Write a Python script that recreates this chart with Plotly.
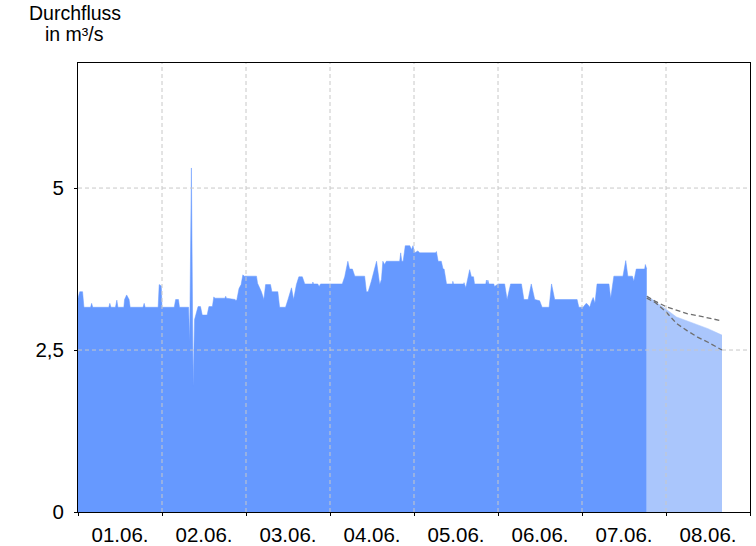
import pandas as pd
import plotly.graph_objects as go

# ---------------- data ----------------
start = "2023-06-01"
# observed discharge (hours after 01.06. 00:00, m³/s)
obs_hours = [0.0, 0.5, 1.3, 1.7, 3.6, 3.9, 4.2, 8.8, 9.1, 9.4, 10.7, 11.1, 11.4,
             13.1, 13.3, 13.9, 14.6, 14.9, 18.6, 18.9, 19.2, 22.9, 23.2, 23.8, 24.0,
             27.5, 27.9, 28.7, 29.0, 31.6, 31.9, 32.4, 32.9, 33.3, 34.3, 35.0, 35.5,
             36.9, 37.4, 38.4, 38.8, 39.1, 42.0, 42.2, 42.4, 44.9, 45.1, 45.4, 46.0,
             46.6, 47.1, 47.5, 51.0, 51.3, 52.4, 53.1, 53.6, 55.0, 55.4, 57.1, 57.6,
             59.3, 60.0, 61.0, 61.6, 62.4, 63.1, 64.1, 64.8, 67.0, 67.1, 67.3, 68.5,
             68.9, 69.3, 75.5, 76.2, 77.1, 77.6, 78.4, 79.1, 81.9, 82.4, 82.9, 83.8,
             84.5, 85.3, 86.2, 86.7, 87.1, 87.6, 88.1, 91.9, 92.2, 92.5, 92.9, 93.5,
             94.8, 95.3, 95.7, 96.2, 97.1, 97.6, 102.2, 102.4, 102.9, 103.8, 104.3,
             104.6, 105.3, 107.0, 107.1, 107.3, 110.2, 110.3, 110.8, 111.4, 111.9,
             112.4, 113.0, 113.3, 116.5, 116.7, 116.9, 117.1, 117.4, 118.8, 119.0,
             120.0, 121.9, 122.6, 123.6, 126.7, 127.4, 128.6, 129.5, 130.5, 131.9,
             132.6, 134.6, 135.3, 136.2, 142.6, 143.1, 144.3, 145.2, 145.7, 146.2,
             146.7, 147.2, 147.7, 148.3, 151.7, 152.2, 153.1, 155.7, 156.5, 157.1,
             158.4, 158.8, 159.5, 161.9, 162.1, 162.4, 162.5]
obs_values = [3.30, 3.40, 3.40, 3.16, 3.16, 3.22, 3.16, 3.16, 3.22, 3.16, 3.16, 3.27, 3.16,
              3.16, 3.28, 3.35, 3.28, 3.16, 3.16, 3.22, 3.16, 3.16, 3.51, 3.49, 3.16,
              3.16, 3.28, 3.28, 3.16, 3.16, 2.63, 5.31, 1.94, 2.97, 3.17, 3.17, 3.04,
              3.04, 3.17, 3.17, 3.32, 3.30, 3.30, 3.33, 3.30, 3.28, 3.26, 3.28, 3.45,
              3.51, 3.66, 3.64, 3.64, 3.53, 3.40, 3.28, 3.51, 3.51, 3.40, 3.40, 3.16,
              3.16, 3.28, 3.46, 3.28, 3.51, 3.63, 3.63, 3.52, 3.52, 3.55, 3.52, 3.52,
              3.48, 3.52, 3.52, 3.63, 3.87, 3.75, 3.75, 3.64, 3.64, 3.40, 3.40, 3.56,
              3.69, 3.87, 3.51, 3.59, 3.87, 3.82, 3.87, 3.87, 4.00, 3.87, 3.87, 4.11,
              4.11, 4.05, 4.11, 4.00, 4.03, 4.00, 4.00, 4.02, 3.87, 3.87, 3.75,
              3.75, 3.52, 3.52, 3.56, 3.52, 3.52, 3.54, 3.46, 3.63, 3.74,
              3.63, 3.63, 3.52, 3.52, 3.58, 3.52, 3.58, 3.52, 3.52, 3.48,
              3.52, 3.52, 3.28, 3.52, 3.52, 3.28, 3.28, 3.52, 3.28, 3.26,
              3.16, 3.16, 3.52, 3.28, 3.28, 3.16, 3.16, 3.22, 3.20, 3.16,
              3.25, 3.31, 3.22, 3.52, 3.52, 3.30, 3.64, 3.64, 3.88, 3.64,
              3.64, 3.56, 3.75, 3.75, 3.82, 3.75, 3.75]

# forecast (hours after 01.06. 00:00, m³/s)
fc_hours = [162.5, 165, 168, 171, 174, 177, 180, 184]
fc_values = [3.34, 3.25, 3.13, 3.01, 2.95, 2.89, 2.83, 2.73]
fc_upper = [3.33, 3.25, 3.17, 3.11, 3.06, 3.03, 3.00, 2.95]
fc_lower = [3.30, 3.23, 3.09, 2.91, 2.80, 2.70, 2.62, 2.50]

y_ticks = [0, 2.5, 5]
y_ticktext = ["0", "2,5", "5"]
day_lines = ["2023-06-02", "2023-06-03", "2023-06-04", "2023-06-05",
             "2023-06-06", "2023-06-07", "2023-06-08"]

# ---------------- figure ----------------
t0 = pd.Timestamp(start)
obs_t = t0 + pd.to_timedelta(obs_hours, unit="h")
fc_t = t0 + pd.to_timedelta(fc_hours, unit="h")

FONT = "Liberation Sans, Arial, sans-serif"
fig = go.Figure()
fig.add_trace(go.Scatter(x=obs_t, y=obs_values, mode="lines", fill="tozeroy",
                         line=dict(width=0.5, color="rgb(102,153,255)"),
                         fillcolor="rgb(102,153,255)", hoverinfo="skip"))
fig.add_trace(go.Scatter(x=fc_t, y=fc_values, mode="lines", fill="tozeroy",
                         line=dict(width=0.5, color="rgb(170,198,252)"),
                         fillcolor="rgb(170,198,252)", hoverinfo="skip"))
fig.add_trace(go.Scatter(x=fc_t, y=fc_upper, mode="lines",
                         line=dict(width=1.3, color="rgb(110,110,110)", dash="5px,3px")))
fig.add_trace(go.Scatter(x=fc_t, y=fc_lower, mode="lines",
                         line=dict(width=1.3, color="rgb(110,110,110)", dash="5px,3px")))

grid = dict(color="rgb(200,200,200)", width=1, dash="4px,3px")
for d in day_lines:
    fig.add_shape(type="line", xref="x", yref="paper", x0=d, x1=d, y0=0, y1=1,
                  line=grid, layer="above")
for v in y_ticks[1:]:
    fig.add_shape(type="line", xref="paper", yref="y", x0=0, x1=1, y0=v, y1=v,
                  line=grid, layer="above")

fig.update_layout(
    width=756, height=546,
    margin=dict(l=78, r=6, t=63, b=34, autoexpand=False),
    paper_bgcolor="white", plot_bgcolor="white",
    showlegend=False,
    font=dict(family=FONT, size=20, color="black"),
    xaxis=dict(type="date", range=["2023-06-01", "2023-06-09"],
               tickmode="linear", tick0="2023-06-01", dtick=86400000,
               ticklabelmode="period", tickformat="%d.%m.",
               ticks="outside", ticklen=3, tickcolor="black",
               showgrid=False, zeroline=False, automargin=False,
               ticklabelstandoff=1,
               showline=True, linecolor="black", linewidth=1, mirror=True,
               tickfont=dict(size=20.5)),
    yaxis=dict(range=[0, 6.93], tickmode="array", tickvals=y_ticks, ticktext=y_ticktext,
               ticks="outside", ticklen=3, tickcolor="black",
               showgrid=False, zeroline=False, automargin=False,
               ticklabelstandoff=6,
               showline=True, linecolor="black", linewidth=1, mirror=True,
               tickfont=dict(size=20.5)),
)
fig.add_annotation(text="Durchfluss", xref="paper", yref="paper",
                   x=(75 - 78.3) / 672, y=(512.3 - 13.5) / 449,
                   xanchor="center", yanchor="middle", showarrow=False,
                   font=dict(size=19.5, family=FONT))
fig.add_annotation(text="in m³/s", xref="paper", yref="paper",
                   x=(75 - 78.3) / 672, y=(512.3 - 34.5) / 449,
                   xanchor="center", yanchor="middle", showarrow=False,
                   font=dict(size=19.5, family=FONT))

fig.write_html("out.html", config={"displayModeBar": False},
               post_script="document.body.style.margin='0';"
                           "document.body.style.overflow='hidden';")
